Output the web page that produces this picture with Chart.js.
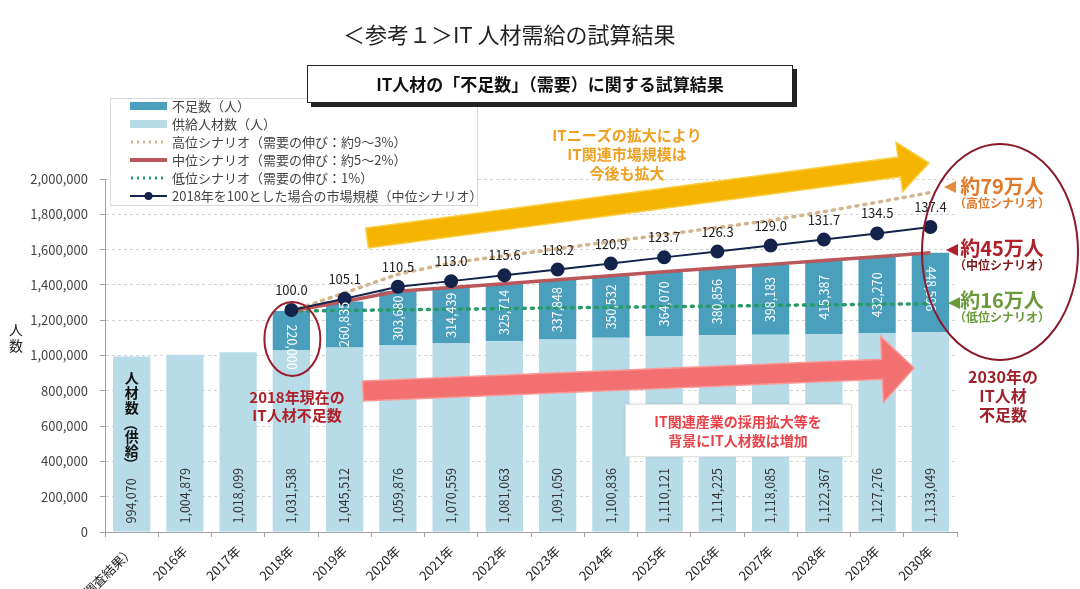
<!DOCTYPE html>
<html lang="ja">
<head>
<meta charset="utf-8">
<script src="https://cdn.jsdelivr.net/npm/chart.js@4/dist/chart.umd.min.js"></script>
<style>
	body { margin: 0; background: #fff; font-family: "Noto Sans CJK JP", "Noto Sans", sans-serif; }
	#wrap { position: relative; width: 1080px; height: 589px; overflow: hidden; }
	#title { position: absolute; left: 343px; top: 17px; font-size: 22px; color: #222; white-space: nowrap; }
	#subtitle {
		position: absolute; left: 307px; top: 65px; width: 484px; height: 36px;
		border: 1px solid #222; box-shadow: 4px 4px 0 #222; background: #fff;
		text-align: center; line-height: 36px; font-size: 17px; font-weight: bold; color: #111;
	}
	canvas { position: absolute; left: 0; top: 0; }
</style>
</head>
<body>
<div id="wrap">
	<canvas id="chart" width="1080" height="589"></canvas>
	<div id="title">＜参考１＞IT 人材需給の試算結果</div>
	<div id="subtitle">IT人材の「不足数」（需要）に関する試算結果</div>
</div>
<script>
const FONT = '"Noto Sans CJK JP", "Noto Sans", sans-serif';

const categories = [
	"2015年（国勢調査結果）", "2016年", "2017年", "2018年", "2019年", "2020年",
	"2021年", "2022年", "2023年", "2024年", "2025年", "2026年",
	"2027年", "2028年", "2029年", "2030年",
];
// 供給人材数
const supply = [994070, 1004879, 1018099, 1031538, 1045512, 1059876, 1070559, 1081063,
	1091050, 1100836, 1110121, 1114225, 1118085, 1122367, 1127276, 1133049];
// 不足数（中位）
const shortage = [null, null, null, 220000, 260835, 303680, 314439, 325714,
	337848, 350532, 364070, 380856, 398183, 415387, 432270, 448596];
// 需要（シナリオ別）
const demandHigh = [null, null, null, 1251538, 1355000, 1460000, 1525000, 1565000,
	1605000, 1645000, 1685000, 1725000, 1765000, 1815000, 1868000, 1923000];
const demandMid = [null, null, null, 1251538, 1306347, 1363556, 1384998, 1406777,
	1428898, 1451368, 1474191, 1495081, 1516268, 1537754, 1559546, 1581645];
const demandLow = [null, null, null, 1251538, 1255000, 1259000, 1262000, 1266000,
	1270000, 1273000, 1277000, 1280000, 1284000, 1287000, 1290000, 1293000];
// 2018年=100 の市場規模
const marketIndex = [null, null, null, 100.0, 105.1, 110.5, 113.0, 115.6,
	118.2, 120.9, 123.7, 126.3, 129.0, 131.7, 134.5, 137.4];

const legendItems = [
	{ text: "不足数（人）", kind: "bar", color: "#4a9fbd" },
	{ text: "供給人材数（人）", kind: "bar", color: "#b7dce8" },
	{ text: "高位シナリオ（需要の伸び：約9～3%）", kind: "dot", color: "#d4b48c" },
	{ text: "中位シナリオ（需要の伸び：約5～2%）", kind: "line", color: "#b9575a" },
	{ text: "低位シナリオ（需要の伸び：1%）", kind: "dot", color: "#2a9a6a" },
	{ text: "2018年を100とした場合の市場規模（中位シナリオ）", kind: "marker", color: "#14234b" },
];

function drawArrow(ctx, x1, y1, x2, y2, band, head, headLen, fill, stroke) {
	const a = Math.atan2(y2 - y1, x2 - x1);
	const len = Math.hypot(x2 - x1, y2 - y1);
	ctx.save();
	ctx.translate(x1, y1);
	ctx.rotate(a);
	ctx.beginPath();
	ctx.moveTo(0, -band);
	ctx.lineTo(len - headLen, -band);
	ctx.lineTo(len - headLen, -head);
	ctx.lineTo(len, 0);
	ctx.lineTo(len - headLen, head);
	ctx.lineTo(len - headLen, band);
	ctx.lineTo(0, band);
	ctx.closePath();
	ctx.fillStyle = fill;
	ctx.fill();
	if (stroke) {
		ctx.strokeStyle = stroke;
		ctx.lineWidth = 1.5;
		ctx.stroke();
	}
	ctx.restore();
}

function text(ctx, str, x, y, size, color, bold, align) {
	ctx.font = `${bold ? "bold " : ""}${size}px ${FONT}`;
	ctx.fillStyle = color;
	ctx.textAlign = align || "center";
	ctx.textBaseline = "middle";
	ctx.fillText(str, x, y);
}

const annotations = {
	id: "annotations",
	afterDatasetsDraw(chart) {
		const ctx = chart.ctx;
		const supplyMeta = chart.getDatasetMeta(0);
		const shortMeta = chart.getDatasetMeta(1);
		const marketMeta = chart.getDatasetMeta(5);

		// bar value labels
		supplyMeta.data.forEach((bar, i) => {
			ctx.save();
			ctx.translate(bar.x, bar.base - 8);
			ctx.rotate(-Math.PI / 2);
			ctx.font = `12.5px ${FONT}`;
			ctx.fillStyle = "#333";
			ctx.textAlign = "left";
			ctx.textBaseline = "middle";
			ctx.fillText(supply[i].toLocaleString("en-US"), 0, 0);
			ctx.restore();
		});
		shortMeta.data.forEach((bar, i) => {
			if (shortage[i] == null) return;
			const flip = i === 3 || i === 15;
			ctx.save();
			ctx.translate(bar.x, flip ? bar.y + 36 : (bar.y + bar.base) / 2);
			ctx.rotate(flip ? Math.PI / 2 : -Math.PI / 2);
			ctx.font = `12.5px ${FONT}`;
			ctx.fillStyle = "#fff";
			ctx.textAlign = "center";
			ctx.textBaseline = "middle";
			ctx.fillText(shortage[i].toLocaleString("en-US"), 0, 0);
			ctx.restore();
		});

		// 人材数（供給）
		const b0 = supplyMeta.data[0];
		const vChars = [["人", 378], ["材", 393], ["数", 408], ["（", 424], ["供", 437], ["給", 451], ["）", 464]];
		vChars.forEach(([c, y]) => {
			if (c === "（" || c === "）") {
				ctx.save();
				ctx.translate(b0.x, y);
				ctx.rotate(Math.PI / 2);
				text(ctx, c, 0, 0, 14, "#111", true);
				ctx.restore();
			} else {
				text(ctx, c, b0.x, y, 14, "#111", true);
			}
		});

		// market labels
		marketMeta.data.forEach((pt, i) => {
			if (marketIndex[i] == null) return;
			text(ctx, marketIndex[i].toFixed(1), pt.x, pt.y - 20, 13, "#222", false);
		});

		// arrows
		drawArrow(ctx, 367, 238, 929, 163, 10, 25, 30, "#f4b400", "#f9cf4a");
		drawArrow(ctx, 363, 391, 914, 368, 10, 33, 32, "#f2706f", "#f79a98");

		text(ctx, "ITニーズの拡大により", 627, 135, 15, "#f0a020", true);
		text(ctx, "IT関連市場規模は", 627, 154, 15, "#f0a020", true);
		text(ctx, "今後も拡大", 627, 173, 15, "#f0a020", true);

		// text box on pink arrow
		ctx.save();
		ctx.shadowColor = "rgba(0,0,0,0.15)";
		ctx.shadowBlur = 3;
		ctx.fillStyle = "#fff";
		ctx.fillRect(625, 404, 226, 52);
		ctx.restore();
		ctx.strokeStyle = "#e2e2e2";
		ctx.lineWidth = 1;
		ctx.strokeRect(625.5, 404.5, 226, 52);
		text(ctx, "IT関連産業の採用拡大等を", 738, 422, 14, "#e8424a", true);
		text(ctx, "背景にIT人材数は増加", 738, 441, 14, "#e8424a", true);

		// 2018 ellipse
		const b3 = supplyMeta.data[3];
		ctx.beginPath();
		ctx.ellipse(b3.x + 1, 339, 28, 37, 0, 0, Math.PI * 2);
		ctx.strokeStyle = "#9b1c2c";
		ctx.lineWidth = 2;
		ctx.stroke();
		text(ctx, "2018年現在の", 297, 397, 15, "#b0202a", true);
		text(ctx, "IT人材不足数", 297, 415, 15, "#b0202a", true);

		// big ellipse at right
		ctx.beginPath();
		ctx.ellipse(1000, 252, 78, 108, 0, 0, Math.PI * 2);
		ctx.strokeStyle = "#8b1a2b";
		ctx.lineWidth = 2;
		ctx.stroke();

		const tri = (x, y, c) => {
			ctx.beginPath();
			ctx.moveTo(x, y);
			ctx.lineTo(x + 12, y - 6);
			ctx.lineTo(x + 12, y + 6);
			ctx.closePath();
			ctx.fillStyle = c;
			ctx.fill();
		};
		tri(944, 187, "#e58a3c");
		text(ctx, "約79万人", 1002, 186, 20, "#e07a2a", true);
		text(ctx, "（高位シナリオ）", 1002, 203, 12, "#e07a2a", true);
		tri(946, 250, "#b0202a");
		text(ctx, "約45万人", 1002, 248, 20, "#b0202a", true);
		text(ctx, "（中位シナリオ）", 1002, 265, 12, "#7a1a1a", true);
		tri(948, 303, "#6a9a3a");
		text(ctx, "約16万人", 1002, 300, 20, "#6a9a3a", true);
		text(ctx, "（低位シナリオ）", 1002, 317, 12, "#6a9a3a", true);

		text(ctx, "2030年の", 1003, 377, 16, "#a0202a", true);
		text(ctx, "IT人材", 1003, 396, 16, "#a0202a", true);
		text(ctx, "不足数", 1003, 415, 16, "#a0202a", true);

		// y axis title (stacked vertical)
		text(ctx, "人", 16, 330, 14, "#222", false);
		text(ctx, "数", 16, 346, 14, "#222", false);

		// legend
		ctx.fillStyle = "#fff";
		ctx.fillRect(110, 98, 367, 107);
		ctx.strokeStyle = "#d9d9d9";
		ctx.lineWidth = 1;
		ctx.strokeRect(110.5, 98.5, 367, 107);
		legendItems.forEach((item, i) => {
			const y = 106 + i * 18;
			ctx.save();
			if (item.kind === "bar") {
				ctx.fillStyle = item.color;
				ctx.fillRect(130, y - 4, 37, 8);
			} else if (item.kind === "dot") {
				ctx.strokeStyle = item.color;
				ctx.lineWidth = 3;
				ctx.setLineDash([2, 4]);
				ctx.beginPath();
				ctx.moveTo(131, y);
				ctx.lineTo(167, y);
				ctx.stroke();
			} else {
				ctx.strokeStyle = item.color;
				ctx.lineWidth = item.kind === "line" ? 4 : 2;
				ctx.beginPath();
				ctx.moveTo(130, y);
				ctx.lineTo(167, y);
				ctx.stroke();
				if (item.kind === "marker") {
					ctx.beginPath();
					ctx.arc(148.5, y, 4, 0, Math.PI * 2);
					ctx.fillStyle = item.color;
					ctx.fill();
				}
			}
			ctx.restore();
			text(ctx, item.text, 172, y, 13, "#444", false, "left");
		});
	},
};

Chart.defaults.font.family = FONT;

new Chart(document.getElementById("chart"), {
	type: "bar",
	data: {
		labels: categories,
		datasets: [
			{
				label: "供給人材数（人）",
				data: supply,
				backgroundColor: "#b7dce8",
				categoryPercentage: 1,
				barPercentage: 0.7,
				order: 10,
			},
			{
				label: "不足数（人）",
				data: shortage,
				backgroundColor: "#4a9fbd",
				categoryPercentage: 1,
				barPercentage: 0.7,
				order: 10,
			},
			{
				type: "line",
				label: "高位シナリオ",
				data: demandHigh,
				stack: "high",
				borderColor: "#d4b48c",
				borderWidth: 3.5,
				borderDash: [2, 6],
				borderCapStyle: "round",
				pointRadius: 0,
				tension: 0,
				order: 3,
			},
			{
				type: "line",
				label: "中位シナリオ",
				data: demandMid,
				stack: "mid",
				borderColor: "#b9575a",
				borderWidth: 3.5,
				pointRadius: 0,
				tension: 0,
				order: 2,
			},
			{
				type: "line",
				label: "低位シナリオ",
				data: demandLow,
				stack: "low",
				borderColor: "#2a9a6a",
				borderWidth: 3.5,
				borderDash: [2, 6],
				borderCapStyle: "round",
				pointRadius: 0,
				tension: 0,
				order: 4,
			},
			{
				type: "line",
				label: "市場規模",
				data: marketIndex,
				yAxisID: "y2",
				borderColor: "#14234b",
				borderWidth: 2,
				pointRadius: 6,
				pointBackgroundColor: "#14234b",
				pointBorderColor: "#14234b",
				tension: 0,
				order: 1,
			},
		],
	},
	options: {
		responsive: false,
		animation: false,
		layout: { padding: { top: 179, right: 123, left: 0, bottom: 0 } },
		plugins: {
			legend: { display: false },
			tooltip: { enabled: false },
		},
		scales: {
			x: {
				stacked: true,
				grid: {
					offset: true,
					drawOnChartArea: false,
					drawTicks: true,
					tickLength: 5,
					color: "#a0a0a0",
				},
				border: { color: "#a0a0a0" },
				ticks: {
					autoSkip: false,
					minRotation: 45,
					maxRotation: 45,
					padding: 6,
					color: "#222",
					font: { size: 13 },
				},
				afterFit(scale) {
					scale.height = 57;
					scale.paddingLeft = 0;
					scale.paddingRight = 0;
				},
			},
			y: {
				stacked: true,
				min: 0,
				max: 2000000,
				ticks: {
					stepSize: 200000,
					padding: 12,
					color: "#444",
					font: { size: 13 },
					callback: (v) => v.toLocaleString("en-US"),
				},
				grid: {
					color: "#d4d4d4",
					tickLength: 5,
					tickColor: "#a0a0a0",
				},
				border: { color: "#a0a0a0", dash: [3, 3] },
				afterFit(scale) {
					scale.width = 105;
				},
			},
			y2: {
				display: false,
				position: "right",
				min: 0,
				max: 159,
			},
		},
	},
	plugins: [annotations],
});
</script>
</body>
</html>
